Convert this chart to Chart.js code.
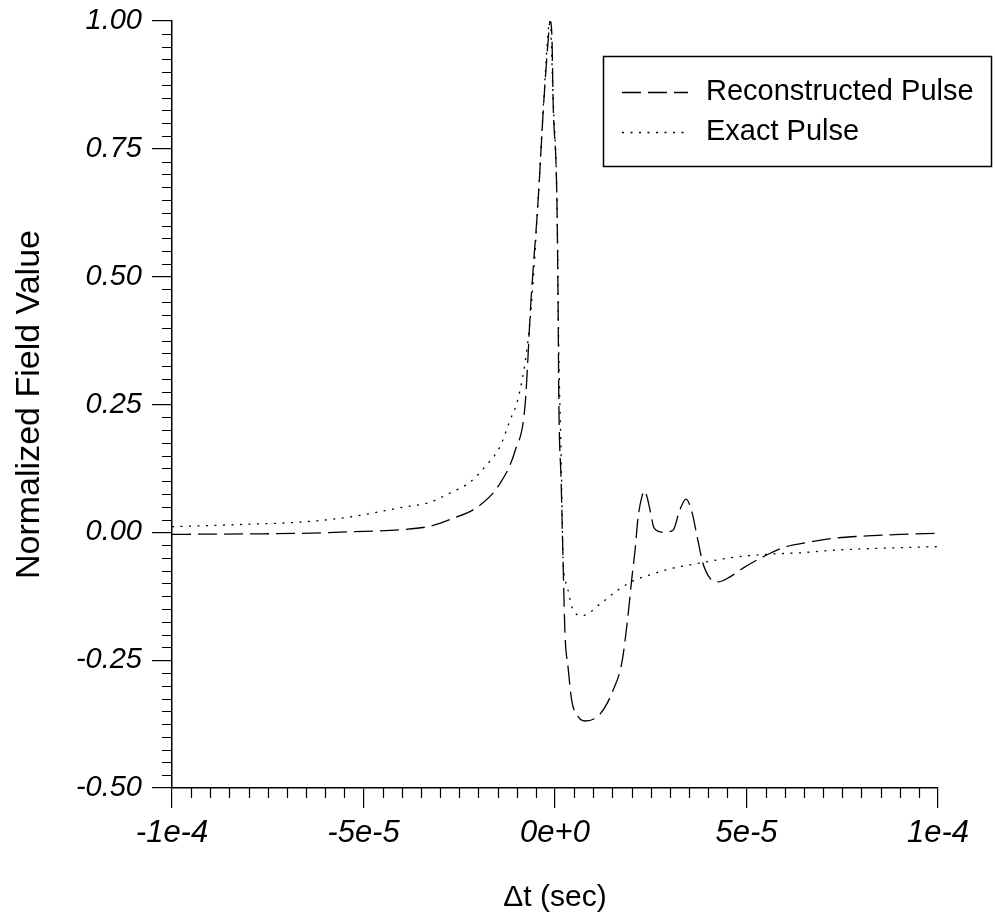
<!DOCTYPE html>
<html><head><meta charset="utf-8">
<script src="https://cdn.jsdelivr.net/npm/chart.js@4/dist/chart.umd.min.js"></script>
<style>html,body{margin:0;padding:0;background:#fff;}canvas{display:block}</style>
</head><body><canvas id="c" width="995" height="922"></canvas>
<script>
// ---- data (time in seconds) ----
const recT = [-100e-6,-79.6e-6,-66.6e-6,-53.5e-6,-40.5e-6,-32.6e-6,-27.4e-6,-19.6e-6,-14.4e-6,-10.4e-6,-7.8e-6,-6.3e-6,-4.4e-6,-2.9e-6,-1.8e-6,-1.3e-6,-0.8e-6,-0.5e-6,0.5e-6,0.8e-6,1.0e-6,1.6e-6,2.1e-6,2.6e-6,3.4e-6,4.4e-6,6.0e-6,7.8e-6,11.8e-6,15.1e-6,17.5e-6,19.1e-6,20.1e-6,20.9e-6,21.7e-6,22.7e-6,23.3e-6,24.0e-6,24.8e-6,25.9e-6,28.2e-6,30.8e-6,32.6e-6,34.2e-6,35.8e-6,37.1e-6,38.6e-6,40.5e-6,42.6e-6,45.7e-6,49.1e-6,54.3e-6,59.5e-6,66.6e-6,73.6e-6,81.5e-6,90.1e-6,100e-6];
const recV = [-0.004,-0.003,-0.002,0.001,0.005,0.012,0.025,0.053,0.095,0.160,0.250,0.450,0.650,0.845,0.960,1.000,0.970,0.845,0.650,0.454,0.258,0.100,-0.054,-0.197,-0.263,-0.330,-0.360,-0.369,-0.355,-0.310,-0.253,-0.160,-0.087,-0.035,0.030,0.070,0.081,0.070,0.044,0.008,0.000,0.004,0.044,0.065,0.038,-0.008,-0.060,-0.090,-0.097,-0.087,-0.070,-0.048,-0.030,-0.019,-0.011,-0.007,-0.004,-0.002];
const exT = [-100e-6,-79.6e-6,-66.6e-6,-53.5e-6,-40.5e-6,-32.6e-6,-27.4e-6,-22.2e-6,-18.3e-6,-14.4e-6,-11.7e-6,-9.7e-6,-7.3e-6,-6.0e-6,-4.4e-6,-2.9e-6,-1.3e-6,-0.5e-6,0.5e-6,1.0e-6,1.6e-6,2.1e-6,2.6e-6,3.4e-6,4.4e-6,7.1e-6,11.8e-6,16.2e-6,20.4e-6,24.8e-6,30.8e-6,37.9e-6,46.5e-6,55.4e-6,64.0e-6,72.6e-6,90.1e-6,100e-6];
const exV = [0.011,0.016,0.020,0.030,0.048,0.059,0.077,0.098,0.128,0.167,0.220,0.260,0.360,0.460,0.650,0.850,1.000,0.850,0.650,0.350,0.150,-0.050,-0.090,-0.113,-0.146,-0.163,-0.140,-0.114,-0.095,-0.083,-0.070,-0.060,-0.049,-0.043,-0.040,-0.035,-0.030,-0.028];
const seriesNames = ['Reconstructed Pulse','Exact Pulse'];
const xTicks = [-1e-4,-5e-5,0,5e-5,1e-4];
const yTicks = [-0.50,-0.25,0.00,0.25,0.50,0.75,1.00];
const xTitle = '\u0394t (sec)';
const yTitle = 'Normalized Field Value';

const FONT = "'Liberation Sans', Arial, Helvetica, sans-serif";
const AREA = {left:172, top:21, right:938, bottom:788};

const minorTicks = {
  id:'minorTicks',
  afterDraw(chart){
    const ctx = chart.ctx, xs = chart.scales.x, ys = chart.scales.y;
    ctx.save(); ctx.strokeStyle='#000'; ctx.lineWidth=1.2;
    ctx.beginPath();
    for(let k=0;k<=40;k++){ if(k%10===0) continue;
      const px = Math.round(xs.getPixelForValue(-1e-4 + k*5e-6))+0.5;
      ctx.moveTo(px, ys.bottom); ctx.lineTo(px, ys.bottom+10); }
    for(let k=0;k<=60;k++){ if(k%10===0) continue;
      const py = Math.round(ys.getPixelForValue(-0.5 + k*0.025))+0.5;
      ctx.moveTo(xs.left, py); ctx.lineTo(xs.left-10, py); }
    ctx.stroke(); ctx.restore();
  }
};
const legendBox = {
  id:'legendBox',
  afterDraw(chart){
    const ctx = chart.ctx;
    ctx.save();
    ctx.strokeStyle='#000'; ctx.lineWidth=1.5; ctx.setLineDash([]);
    ctx.strokeRect(603.5,56.5,388,110);
    chart.data.datasets.forEach((ds,i)=>{
      const y = 92 + i*40;
      ctx.beginPath(); ctx.setLineDash(ds.borderDash); ctx.lineWidth=ds.borderWidth;
      ctx.moveTo(622,y+0.5); ctx.lineTo(688,y+0.5); ctx.stroke();
      ctx.setLineDash([]);
      ctx.fillStyle='#000'; ctx.font='29px '+FONT; ctx.textBaseline='middle'; ctx.textAlign='left';
      ctx.fillText(ds.label, 706, y);
    });
    ctx.restore();
  }
};
function zeroPad(s){ s.paddingTop=0; s.paddingBottom=0; s.paddingLeft=0; s.paddingRight=0; }

new Chart(document.getElementById('c'), {
  type:'scatter',
  data:{ datasets:[
    {label:seriesNames[0], data:recT.map((t,i)=>({x:t,y:recV[i]})), showLine:true, borderColor:'#000', borderWidth:1.3, borderDash:[19,7], pointRadius:0, cubicInterpolationMode:'monotone'},
    {label:seriesNames[1], data:exT.map((t,i)=>({x:t,y:exV[i]})), showLine:true, borderColor:'#000', borderWidth:1.3, borderDash:[2,6.5], pointRadius:0, cubicInterpolationMode:'monotone'}
  ]},
  options:{
    responsive:false, animation:false, devicePixelRatio:1,
    layout:{padding:{left:0, top:AREA.top, right:995-AREA.right, bottom:0}},
    plugins:{legend:{display:false}, tooltip:{enabled:false}},
    scales:{
      x:{ type:'linear', min:-1e-4, max:1e-4,
        afterBuildTicks: s => { s.ticks = xTicks.map(v=>({value:v})); },
        afterFit: s => { s.height = 922 - AREA.bottom; zeroPad(s); },
        ticks:{ callback: v => Number(v).toExponential(0), font:{family:FONT, size:31, style:'italic'}, color:'#000', padding:7, maxRotation:0, autoSkip:false },
        grid:{ display:true, drawOnChartArea:false, drawTicks:true, tickLength:20, color:'#000', lineWidth:1.2 },
        border:{ display:true, color:'#000', width:1.5 },
        title:{ display:true, text:xTitle, font:{family:FONT, size:30}, color:'#000', padding:{top:0,bottom:6} }
      },
      y:{ type:'linear', min:-0.5, max:1.0,
        afterBuildTicks: s => { s.ticks = yTicks.map(v=>({value:v})); },
        afterFit: s => { s.width = AREA.left; zeroPad(s); },
        ticks:{ callback: v => Number(v).toFixed(2), font:{family:FONT, size:29, style:'italic'}, color:'#000', padding:10, autoSkip:false },
        grid:{ display:true, drawOnChartArea:false, drawTicks:true, tickLength:20, color:'#000', lineWidth:1.2 },
        border:{ display:true, color:'#000', width:1.5 },
        title:{ display:true, text:yTitle, font:{family:FONT, size:34}, color:'#000', padding:{top:9,bottom:0} }
      }
    }
  },
  plugins:[minorTicks, legendBox]
});
</script></body></html>
